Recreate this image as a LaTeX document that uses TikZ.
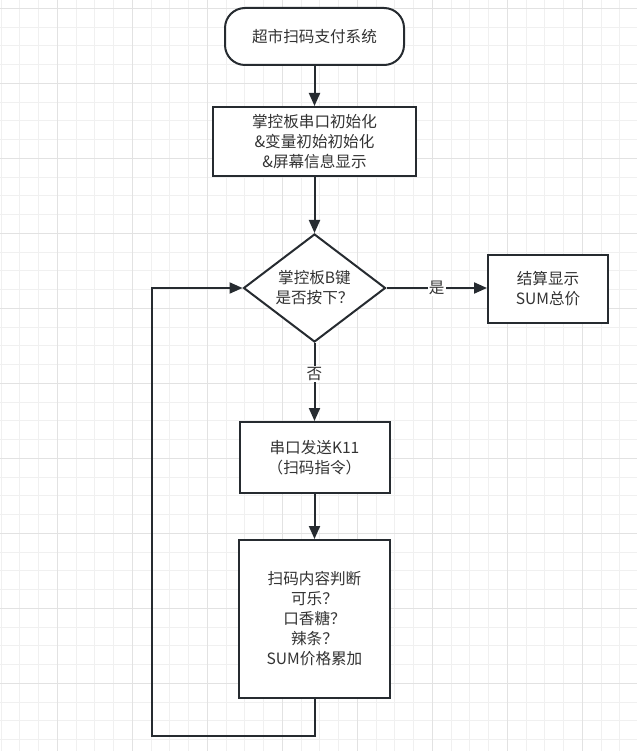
\documentclass[tikz,border=0pt]{standalone}
\usepackage{fontspec}
\setmainfont{Noto Sans CJK SC}
\usetikzlibrary{arrows.meta,shapes.geometric}
\definecolor{edgec}{HTML}{262B30}
\definecolor{txtc}{HTML}{333333}
\definecolor{gridminor}{HTML}{F0F0F0}
\definecolor{gridmajor}{HTML}{E2E2E2}
\tikzset{
  base/.style={draw=edgec, line width=2pt, fill=white, text=txtc, align=center,
    font=\fontsize{15.6}{20}\selectfont, inner sep=0pt},
  termbox/.style={base, rectangle, rounded corners=20pt},
  procbox/.style={base, rectangle},
  decbox/.style={base, diamond, aspect=1.31},
  conn/.style={draw=edgec, line width=2pt, -{Triangle[length=13pt,width=11pt]}},
  lbl/.style={fill=white, text=txtc, font=\fontsize{15.6}{18}\selectfont, inner sep=1pt},
}
\begin{document}
\begin{tikzpicture}[x=1pt,y=-1pt]
\useasboundingbox (0,0) rectangle (637,751);
\fill[white] (0,0) rectangle (637,751);
% grid
\foreach \i in {0,...,33} { \draw[gridminor, line width=1pt] ({1.05+18.75*\i},0) -- ({1.05+18.75*\i},751); }
\foreach \i in {0,...,39} { \draw[gridminor, line width=1pt] (0,{8.3+18.75*\i}) -- (637,{8.3+18.75*\i}); }
\foreach \i in {0,...,7} { \draw[gridmajor, line width=1pt] ({57.3+75*\i},0) -- ({57.3+75*\i},751); }
\foreach \i in {0,...,9} { \draw[gridmajor, line width=1pt] (0,{8.3+75*\i}) -- (637,{8.3+75*\i}); }

\node[termbox, minimum width=179pt, minimum height=57pt] (start) at (314.5,36.5) {超市扫码支付系统};
\node[procbox, minimum width=203pt, minimum height=69pt] (init) at (314.5,141.5) {掌控板串口初始化\\\&变量初始初始化\\\&屏幕信息显示};
\node[decbox, minimum width=142pt, minimum height=108pt] (dec) at (314.5,288) {掌控板B键\\是否按下？};
\node[procbox, minimum width=120pt, minimum height=68pt] (sum) at (548,289) {结算显示\\SUM总价};
\node[procbox, minimum width=150pt, minimum height=71pt] (send) at (314.5,457.5) {串口发送K11\\（扫码指令）};
\node[procbox, minimum width=151pt, minimum height=158pt] (scan) at (314.5,619) {扫码内容判断\\可乐？\\口香糖？\\辣条？\\SUM价格累加};

\coordinate (c1) at (314.5,736);
\coordinate (c2) at (152,736);
\coordinate (c3) at (152,288);

\draw[conn] (start) -- (init);
\draw[conn] (init) -- (dec);
\draw[conn] (dec.east) -- node[lbl, pos=0.5] {是} (sum.west |- dec.east);
\draw[conn] (dec) -- node[lbl, pos=0.4] {否} (send);
\draw[conn] (send) -- (scan);
\draw[conn] (scan.south) -- (c1) -- (c2) -- (c3) -- (dec.west);
\end{tikzpicture}
\end{document}
